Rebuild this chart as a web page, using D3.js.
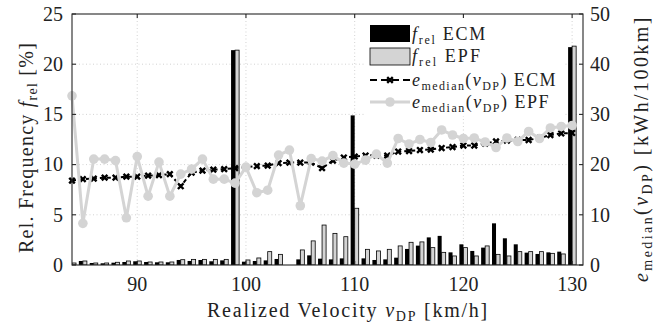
<!DOCTYPE html>
<html>
<head>
<meta charset="utf-8">
<title>Frequency and median consumption</title>
<script src="https://cdn.jsdelivr.net/npm/d3@7"></script>
<style>
    body { margin: 0; background: #fff; }
    text { font-family: "Liberation Serif", "DejaVu Serif", serif; fill: #222; }
</style>
</head>
<body>
<svg id="chart" width="655" height="323"></svg>
<script>
    // velocity classes [km/h]
    const velocity = [84, 85, 86, 87, 88, 89, 90, 91, 92, 93, 94, 95, 96, 97, 98, 99, 100, 101, 102, 103,
        104, 105, 106, 107, 108, 109, 110, 111, 112, 113, 114, 115, 116, 117, 118, 119, 120, 121, 122, 123,
        124, 125, 126, 127, 128, 129, 130];

    // relative frequency [%]
    const fRelEcm = [0.2, 0.4, 0.2, 0.17, 0.23, 0.3, 0.37, 0.3, 0.27, 0.27, 0.5, 0.4, 0.5, 0.37, 0.46, 21.4, 0.33, 0.4, 0.46, 0.6,
        0, 0.56, 0.96, 0.63, 0.56, 0.66, 14.9, 0.66, 0.5, 0.56, 0.73, 1.6, 1.93, 2.75, 2.9, 1.26, 2.06, 1.4, 1.73, 4.15,
        2.66, 2.06, 1.23, 1.1, 1.26, 1.33, 21.7];
    const fRelEpf = [0.2, 0.4, 0.2, 0.2, 0.27, 0.4, 0.4, 0.3, 0.3, 0.3, 0.53, 0.56, 0.56, 0.56, 0.56, 21.4, 0.5, 0.7, 1.33, 1.06,
        0, 1.5, 2.4, 3.98, 3.15, 2.82, 5.65, 1.56, 1.4, 1.56, 1.9, 2.26, 2.3, 1.73, 1.26, 0.9, 1.73, 0.9, 1.9, 1.06,
        0.9, 1.33, 1.33, 1.33, 1.16, 1.1, 21.8];

    // median consumption [kWh/100km]
    const eMedEcm = [16.8, 17.1, 17.2, 17.4, 17.4, 17.6, 17.6, 17.8, 17.9, 18.1, 15.7, 18.4, 18.8, 19.0, 19.1, 19.3, 19.5, 19.7, 19.8, 20.3,
        20.4, 20.4, 20.4, 19.3, 20.8, 21.4, 21.6, 21.8, 21.8, 21.8, 22.6, 22.7, 22.9, 23.0, 23.3, 23.5, 23.8, 23.8, 24.2, 24.6,
        24.8, 24.9, 24.9, 25.3, 25.9, 26.2, 26.3];
    const eMedEpf = [33.7, 8.3, 21.1, 21.1, 20.8, 9.4, 21.6, 13.7, 20.5, 13.7, 18.1, 19.1, 21.1, 17.1, 17.1, 16.3, 19.5, 14.4, 14.9, 21.9,
        22.9, 11.8, 21.2, 20.7, 21.8, 20.3, 20.1, 20.9, 22.1, 20.3, 25.2, 24.1, 25.0, 24.4, 26.9, 25.9, 25.2, 25.3, 24.5, 23.4,
        25.3, 24.6, 26.6, 25.2, 27.3, 27.6, 27.8];

    const xTicks = [90, 100, 110, 120, 130];
    const yLeftTicks = [0, 5, 10, 15, 20, 25];
    const yRightTicks = [0, 10, 20, 30, 40, 50];

    const ecmColor = "#000";
    const epfColor = "#d4d4d4";

    const mLeft = 72, mRight = 583, mTop = 14, mBottom = 265;
    const svg = d3.select("#chart");

    const x = d3.scaleLinear().domain([84, 131]).range([mLeft, mRight]);
    const yL = d3.scaleLinear().domain([0, 25]).range([mBottom, mTop]);
    const yR = d3.scaleLinear().domain([0, 50]).range([mBottom, mTop]);
    const halfW = 0.37;

    // stretch a label (LaTeX font is wider than the serif we have)
    function fitWidth(sel, target) {
        const n = sel.text().length;
        const w = sel.node().getComputedTextLength();
        sel.attr("letter-spacing", ((target - w) / n).toFixed(2));
    }

    // writes parts like [["f","i"],["rel","s"],[" ECM","n"]] into a text element
    function richText(t, parts, subSize, shift) {
        let sub = false;
        parts.forEach(([s, k]) => {
            const sp = t.append("tspan").text(s);
            if (k === "i") sp.attr("font-style", "italic");
            if (k === "s" && !sub) { sp.attr("font-size", subSize).attr("dy", shift); sub = true; }
            else if (k !== "s" && sub) { sp.attr("dy", -shift); sub = false; }
        });
    }

    svg.append("defs").append("clipPath").attr("id", "plot-clip")
        .append("rect").attr("x", mLeft).attr("y", mTop).attr("width", mRight - mLeft).attr("height", mBottom - mTop);

    // grid
    const grid = svg.append("g").attr("stroke", "#c8c8c8").attr("stroke-width", 0.8).attr("stroke-dasharray", "1,2.5");
    grid.selectAll("line.gx").data(xTicks).join("line")
        .attr("x1", d => x(d)).attr("x2", d => x(d)).attr("y1", mTop).attr("y2", mBottom);
    grid.selectAll("line.gy").data(yLeftTicks.slice(1, -1)).join("line")
        .attr("x1", mLeft).attr("x2", mRight).attr("y1", d => yL(d)).attr("y2", d => yL(d));

    // bars
    const bars = svg.append("g").attr("clip-path", "url(#plot-clip)");
    bars.selectAll("rect.ecm").data(velocity).join("rect")
        .attr("class", "ecm")
        .attr("x", d => x(d - halfW)).attr("width", x(halfW) - x(0))
        .attr("y", (d, i) => yL(fRelEcm[i])).attr("height", (d, i) => yL(0) - yL(fRelEcm[i]))
        .attr("fill", ecmColor);
    bars.selectAll("rect.epf").data(velocity).join("rect")
        .attr("class", "epf")
        .attr("x", d => x(d)).attr("width", x(halfW) - x(0))
        .attr("y", (d, i) => yL(fRelEpf[i])).attr("height", (d, i) => yL(0) - yL(fRelEpf[i]))
        .attr("fill", epfColor).attr("stroke", "#000").attr("stroke-width", 0.8);

    // median lines
    const ecmLine = d3.line().x(d => x(d)).y((d, i) => yR(eMedEcm[i]));
    const epfLine = d3.line().x(d => x(d)).y((d, i) => yR(eMedEpf[i]));
    const xMark = "M-2.8,-2.8L2.8,2.8M-2.8,2.8L2.8,-2.8";

    svg.append("path").datum(velocity).attr("d", ecmLine)
        .attr("fill", "none").attr("stroke", ecmColor).attr("stroke-width", 2).attr("stroke-dasharray", "4,3");
    svg.append("g").selectAll("path").data(velocity).join("path")
        .attr("transform", (d, i) => `translate(${x(d)},${yR(eMedEcm[i])})`)
        .attr("d", xMark).attr("stroke", ecmColor).attr("stroke-width", 2.4);

    svg.append("path").datum(velocity).attr("d", epfLine)
        .attr("fill", "none").attr("stroke", epfColor).attr("stroke-width", 3);
    svg.append("g").selectAll("circle").data(velocity).join("circle")
        .attr("cx", d => x(d)).attr("cy", (d, i) => yR(eMedEpf[i]))
        .attr("r", 4.8).attr("fill", epfColor);

    // frame and ticks
    const frame = svg.append("g").attr("stroke", "#262626").attr("stroke-width", 1.1);
    frame.append("rect").attr("x", mLeft).attr("y", mTop).attr("width", mRight - mLeft).attr("height", mBottom - mTop).attr("fill", "none");
    xTicks.forEach(t => {
        frame.append("line").attr("x1", x(t)).attr("x2", x(t)).attr("y1", mBottom).attr("y2", mBottom - 4);
        frame.append("line").attr("x1", x(t)).attr("x2", x(t)).attr("y1", mTop).attr("y2", mTop + 4);
    });
    yLeftTicks.forEach(t => frame.append("line").attr("x1", mLeft).attr("x2", mLeft + 4).attr("y1", yL(t)).attr("y2", yL(t)));
    yRightTicks.forEach(t => frame.append("line").attr("x1", mRight).attr("x2", mRight - 4).attr("y1", yR(t)).attr("y2", yR(t)));

    const fs = 20;
    svg.append("g").selectAll("text").data(xTicks).join("text")
        .attr("x", d => x(d)).attr("y", 290.5).attr("text-anchor", "middle").attr("font-size", fs).text(d => d);
    svg.append("g").selectAll("text").data(yLeftTicks).join("text")
        .attr("x", 63).attr("y", d => yL(d) + 6.8).attr("text-anchor", "end").attr("font-size", fs).text(d => d);
    svg.append("g").selectAll("text").data(yRightTicks).join("text")
        .attr("x", 590).attr("y", d => yR(d) + 6.8).attr("text-anchor", "start").attr("font-size", fs).text(d => d);

    // axis titles
    const xt = svg.append("text").attr("x", 207).attr("y", 316.5).attr("font-size", fs);
    richText(xt, [["Realized Velocity ", "n"], ["v", "i"], ["DP", "s"], [" [km/h]", "n"]], 14, 4);
    fitWidth(xt, 282);

    const yt = svg.append("text").attr("transform", "translate(33,253) rotate(-90)").attr("font-size", fs);
    richText(yt, [["Rel. Frequency ", "n"], ["f", "i"], ["rel", "s"], [" [%]", "n"]], 14, 4);
    fitWidth(yt, 211);

    const yt2 = svg.append("text").attr("transform", "translate(648,282) rotate(-90)").attr("font-size", fs);
    richText(yt2, [["e", "i"], ["median", "s"], ["(", "n"], ["v", "i"], ["DP", "s"], [") [kWh/100km]", "n"]], 14, 4);
    fitWidth(yt2, 267);

    // legend
    const legend = svg.append("g");
    legend.append("rect").attr("x", 364).attr("y", 18).attr("width", 200).attr("height", 98).attr("fill", "#fff");
    const lx = 370, lw = 40, ltx = 412;
    const rows = [34, 56, 80, 102];
    legend.append("rect").attr("x", lx).attr("y", 25).attr("width", lw).attr("height", 17).attr("fill", ecmColor);
    legend.append("rect").attr("x", lx).attr("y", 48).attr("width", lw).attr("height", 17)
        .attr("fill", epfColor).attr("stroke", "#000").attr("stroke-width", 0.8);
    legend.append("line").attr("x1", lx).attr("x2", lx + lw).attr("y1", rows[2]).attr("y2", rows[2])
        .attr("stroke", ecmColor).attr("stroke-width", 2).attr("stroke-dasharray", "7,4");
    legend.append("path").attr("transform", `translate(${lx + lw / 2},${rows[2]})`).attr("d", xMark)
        .attr("stroke", ecmColor).attr("stroke-width", 2.4);
    legend.append("line").attr("x1", lx).attr("x2", lx + lw).attr("y1", rows[3]).attr("y2", rows[3])
        .attr("stroke", epfColor).attr("stroke-width", 3);
    legend.append("circle").attr("cx", lx + lw / 2).attr("cy", rows[3]).attr("r", 4.8).attr("fill", epfColor);

    const legendLabels = [
        [["f", "i"], ["rel", "s"], [" ECM", "n"]],
        [["f", "i"], ["rel", "s"], [" EPF", "n"]],
        [["e", "i"], ["median", "s"], ["(", "n"], ["v", "i"], ["DP", "s"], [") ECM", "n"]],
        [["e", "i"], ["median", "s"], ["(", "n"], ["v", "i"], ["DP", "s"], [") EPF", "n"]]
    ];
    const legendWidths = [75, 70, 145, 138];
    legendLabels.forEach((parts, r) => {
        const t = legend.append("text").attr("x", ltx).attr("y", rows[r] + 5.5).attr("font-size", 18);
        richText(t, parts, 12, 4);
        fitWidth(t, legendWidths[r]);
    });
</script>
</body>
</html>
